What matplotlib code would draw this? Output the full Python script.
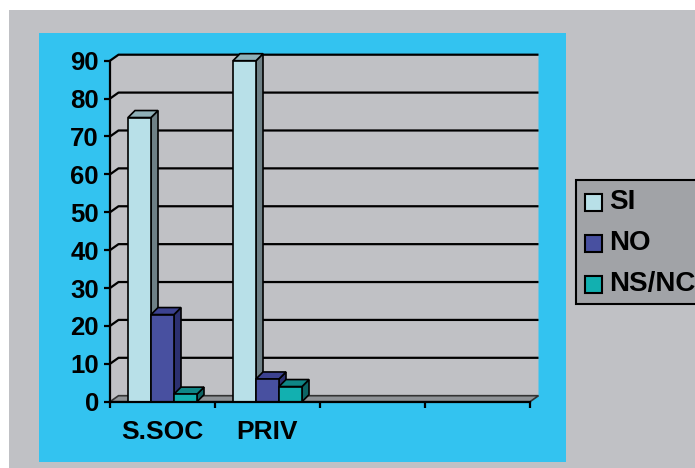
import numpy as np
import matplotlib.pyplot as plt
from matplotlib.patches import Rectangle, Polygon

# survey answers (%) per provider type
categories = ["S.SOC", "PRIV", "", ""]
series_names = ["SI", "NO", "NS/NC"]
si_values = [75, 90]
no_values = [23, 6]
nsnc_values = [2, 4]
yticks = list(range(0, 100, 10))

# front / top / side shades for each series
front_colors = ["#b8e0e8", "#4850a0", "#12b0b0"]
top_colors = ["#8fb0b8", "#3c4290", "#0f8686"]
side_colors = ["#6e8086", "#2c3070", "#0d6464"]

W, H = 695, 468
fig = plt.figure(figsize=(W / 100, H / 100), dpi=100)
fig.patch.set_facecolor("white")

# outer grey sheet and cyan chart area
fig.patches.append(Rectangle((9 / W, 0), 1, 1 - 10 / H, transform=fig.transFigure,
                             facecolor="#c0c1c5", edgecolor="none", zorder=-3))
fig.patches.append(Rectangle((39 / W, (H - 462) / H), (566 - 39) / W, (462 - 33) / H,
                             transform=fig.transFigure, facecolor="#33c3f0",
                             edgecolor="none", zorder=-2))

ax = fig.add_axes([110 / W, (H - 401.7) / H, 420 / W, 341 / H])
ax.set_xlim(0, len(categories))
ax.set_ylim(0, 90)
ax.patch.set_visible(False)

# depth offsets converted from pixels to data units
px_x = (ax.get_xlim()[1] - ax.get_xlim()[0]) / 420
px_y = (ax.get_ylim()[1] - ax.get_ylim()[0]) / 341
wdx, wdy = 8.5 * px_x, 6 * px_y
bdx, bdy = 7 * px_x, 7 * px_y

nx = len(categories)
ymax = ax.get_ylim()[1]

# walls (back + left side) and floor
wall = Polygon([(0, 0), (0, ymax), (wdx, ymax + wdy), (nx + wdx, ymax + wdy),
                (nx + wdx, wdy), (wdx, wdy)], closed=True, facecolor="#c0c1c5",
               edgecolor="none", clip_on=False, zorder=0)
ax.add_patch(wall)
floor = Polygon([(0, 0), (nx, 0), (nx + wdx, wdy), (wdx, wdy)], closed=True,
                facecolor="#8e9296", edgecolor="#333333", lw=1.2, clip_on=False, zorder=1)
ax.add_patch(floor)

# gridlines on side + back wall
for v in yticks[1:]:
    ax.plot([0, wdx, nx + wdx], [v, v + wdy, v + wdy], color="black", lw=1.6,
            clip_on=False, zorder=1.5, solid_capstyle="butt")

# 3D bars
values = [si_values, no_values, nsnc_values]
bar_w = 23 / 105
gap = 18 / 105
for j, vals in enumerate(values):
    for i, v in enumerate(vals):
        x0 = i + gap + j * bar_w
        x1 = x0 + bar_w
        side = Polygon([(x1, 0), (x1 + bdx, bdy), (x1 + bdx, v + bdy), (x1, v)],
                       closed=True, facecolor=side_colors[j], edgecolor="black",
                       lw=1.2, clip_on=False, zorder=3 + i)
        top = Polygon([(x0, v), (x1, v), (x1 + bdx, v + bdy), (x0 + bdx, v + bdy)],
                      closed=True, facecolor=top_colors[j], edgecolor="black",
                      lw=1.2, clip_on=False, zorder=3 + i)
        front = Rectangle((x0, 0), bar_w, v, facecolor=front_colors[j],
                          edgecolor="black", lw=1.2, clip_on=False, zorder=3 + i)
        for p in (side, top, front):
            ax.add_patch(p)

# axes lines and ticks
for s in ("top", "right"):
    ax.spines[s].set_visible(False)
for s in ("left", "bottom"):
    ax.spines[s].set_linewidth(1.6)
    ax.spines[s].set_zorder(10)
ax.set_yticks(yticks)
ax.set_yticklabels([str(t) for t in yticks], fontsize=18.5, fontweight="bold",
                   family="Liberation Sans")
ax.tick_params(axis="y", direction="out", length=4, width=1.6, pad=4)
ax.set_xticks(range(nx + 1))
ax.set_xticklabels([])
ax.tick_params(axis="x", which="major", direction="out", length=4, width=1.6)
ax.set_xticks(np.arange(nx) + 0.5, minor=True)
ax.set_xticklabels(categories, minor=True, fontsize=19, fontweight="bold",
                   family="Liberation Sans")
ax.tick_params(axis="x", which="minor", length=0, pad=13)

# legend box
fig.patches.append(Rectangle((576 / W, (H - 304) / H), 130 / W, 124 / H,
                             transform=fig.transFigure, facecolor="#a1a3a7",
                             edgecolor="black", lw=1.5, zorder=5))
for k, name in enumerate(series_names):
    cy = 202 + k * 41
    fig.patches.append(Rectangle((585 / W, (H - cy - 8.5) / H), 17 / W, 17 / H,
                                 transform=fig.transFigure, facecolor=front_colors[k],
                                 edgecolor="black", lw=1.5, zorder=6))
    fig.text(609 / W, (H - cy) / H, name, fontsize=20, fontweight="bold",
             family="Liberation Sans", va="center", ha="left", zorder=7)

fig.savefig("out.png", dpi=100)
